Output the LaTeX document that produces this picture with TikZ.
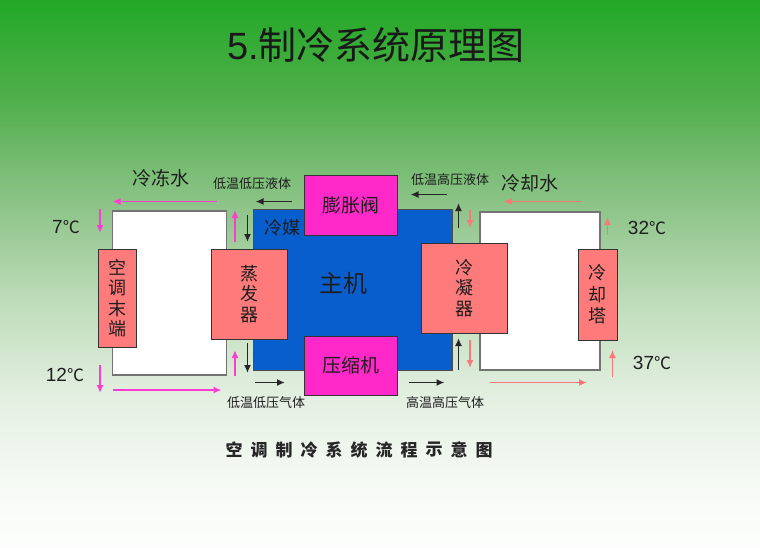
\documentclass[tikz,border=0pt]{standalone}
\usepackage{fontspec}
\setmainfont{Liberation Sans}
\newfontfamily\cjk{Noto Sans CJK SC}
\usetikzlibrary{calc,arrows.meta}
\usepackage{xcolor}
\definecolor{bgA}{RGB}{34,168,38}
\definecolor{bgB}{RGB}{80,175,75}
\definecolor{bgC}{RGB}{140,195,135}
\definecolor{bgD}{RGB}{190,220,185}
\definecolor{bgE}{RGB}{228,240,226}
\definecolor{bgF}{RGB}{246,250,245}
\definecolor{bgG}{RGB}{252,253,252}
\definecolor{hostcol}{RGB}{8,94,204}
\definecolor{partcol}{RGB}{255,122,122}
\definecolor{valvecol}{RGB}{255,40,200}
\definecolor{chillcol}{RGB}{255,60,210}
\definecolor{coolcol}{RGB}{250,120,120}
\definecolor{txtcol}{RGB}{30,30,30}
% only 25bp..75bp of a shading is shown on the path
\pgfdeclareverticalshading{bgshade}{100bp}{color(0bp)=(bgG); color(25bp)=(bgG);
  color(31bp)=(bgF); color(38.5bp)=(bgE); color(47.5bp)=(bgD); color(56.5bp)=(bgC);
  color(66bp)=(bgB); color(75bp)=(bgA); color(100bp)=(bgA)}
\tikzstyle{loop}=[draw=black!55,line width=1.2pt,fill=white,inner sep=0]
\tikzstyle{host}=[draw=black!70,line width=0.8pt,fill=hostcol,inner sep=0]
\tikzstyle{part}=[draw=black!80,line width=0.9pt,fill=partcol,inner sep=0,
  text=txtcol,align=center,font=\cjk\fontsize{18}{20.5}\selectfont]
\tikzstyle{valve}=[draw=black!80,line width=0.9pt,fill=valvecol,inner sep=0,
  text=txtcol,font=\cjk\fontsize{19}{22}\selectfont]
\tikzstyle{label}=[text=txtcol,inner sep=0,font=\cjk\fontsize{13}{15}\selectfont]
\tikzstyle{water}=[text=txtcol,inner sep=0,font=\cjk\fontsize{19}{22}\selectfont]
\tikzstyle{temp}=[text=txtcol,inner sep=0,font=\fontsize{19}{22}\selectfont]
\tikzstyle{refarrow}=[-{Latex[length=8pt,width=7pt]},line width=1.6pt,black!85]
\tikzstyle{chillarrow}=[-{Latex[length=8pt,width=7pt]},line width=1.6pt,chillcol]
\tikzstyle{coolarrow}=[-{Latex[length=8pt,width=7pt]},line width=1.6pt,coolcol]
\newcommand{\degC}{{\cjk\fontsize{17}{20}\selectfont ℃}}

\begin{document}
\begin{tikzpicture}[x=1pt,y=-1pt]

  % BACKGROUND
  \shade[shading=bgshade] (0,0) rectangle (760,547);
  \useasboundingbox (0,0) rectangle (760,547);

  % TITLE
  \node[text=black!90,inner sep=0,font=\cjk\fontsize{38}{42}\selectfont] (title)
    at (376,45) {{\fontspec{Liberation Sans}5.}制冷系统原理图};

  % WATER LOOPS
  \node[loop,minimum width=114,minimum height=164] (chill) at (169.5,293) {};
  \node[loop,minimum width=120,minimum height=158] (cool) at (540,291) {};

  % HOST
  \node[host,minimum width=199,minimum height=161] (host) at (352.5,289.5) {};
  \node[text=txtcol,font=\cjk\fontsize{18}{20}\selectfont] (media) at (282,228) {冷媒};
  \node[text=txtcol,font=\cjk\fontsize{24}{28}\selectfont] (hostname) at (343,283) {主机};

  % PARTS
  \node[part,minimum width=38,minimum height=98] (term) at (117,298) {空\\调\\末\\端};
  \node[part,minimum width=76,minimum height=90] (evap) at (249,294) {蒸\\发\\器};
  \node[part,minimum width=86,minimum height=90] (cond) at (464,288) {冷\\凝\\器};
  \node[part,minimum width=39,minimum height=91,
    font=\cjk\fontsize{18}{21.5}\selectfont] (tower) at (597.5,294.5) {冷\\却\\塔};
  \node[valve,minimum width=93,minimum height=60] (expv) at (350.5,205) {膨胀阀};
  \node[valve,minimum width=93,minimum height=59] (comp) at (350.5,365.5) {压缩机};

  % LABELS
  \node[water] (chillw) at (161,178) {冷冻水};
  \node[water] (coolw) at (530,183) {冷却水};
  \node[label] (lowliq) at (252,184) {低温低压液体};
  \node[label] (highliq) at (450,180) {低温高压液体};
  \node[label] (lowgas) at (266,403) {低温低压气体};
  \node[label] (highgas) at (445,403) {高温高压气体};
  \node[temp] (t7) at (66,227) {7\degC};
  \node[temp] (t12) at (65,375) {12\degC};
  \node[temp] (t32) at (647,228) {32\degC};
  \node[temp] (t37) at (652,363) {37\degC};

  % REFRIGERANT ARROWS
  \draw[refarrow] (291.5,201.5) --++ (-36,0);
  \draw[refarrow] (247.5,215) --++ (0,27);
  \draw[refarrow] (247.5,343) --++ (0,30);
  \draw[refarrow] (255,382.5) --++ (30,0);
  \draw[refarrow] (446.5,194.5) --++ (-36,0);
  \draw[refarrow] (458.5,228) --++ (0,-25);
  \draw[refarrow] (458.5,370) --++ (0,-32);
  \draw[refarrow] (408.5,382.5) --++ (36,0);

  % CHILLED WATER ARROWS
  \draw[chillarrow] (216.5,201.5) --++ (-104,0);
  \draw[chillarrow] (100,209) --++ (0,24);
  \draw[chillarrow] (100,365) --++ (0,28);
  \draw[chillarrow] (112.5,390) --++ (109,0);
  \draw[chillarrow] (235,242) --++ (0,-32);
  \draw[chillarrow] (235,376) --++ (0,-26);

  % COOLING WATER ARROWS
  \draw[coolarrow] (470,210) --++ (0,18);
  \draw[coolarrow] (470,340) --++ (0,28);
  \draw[coolarrow] (581.5,201.5) --++ (-78,0);
  \draw[coolarrow] (607.5,235) --++ (0,-18);
  \draw[coolarrow] (490,382.5) --++ (97,0);
  \draw[coolarrow] (612.5,377) --++ (0,-27);

  % CAPTION
  \foreach \c [count=\i] in {空,调,制,冷,系,统,流,程,示,意,图}{
    \node[text=black!85,inner sep=0,font=\cjk\bfseries\fontsize{17}{20}\selectfont]
      (cap\i) at ({234+(\i-1)*25},450) {\c};
  }

\end{tikzpicture}
\end{document}
